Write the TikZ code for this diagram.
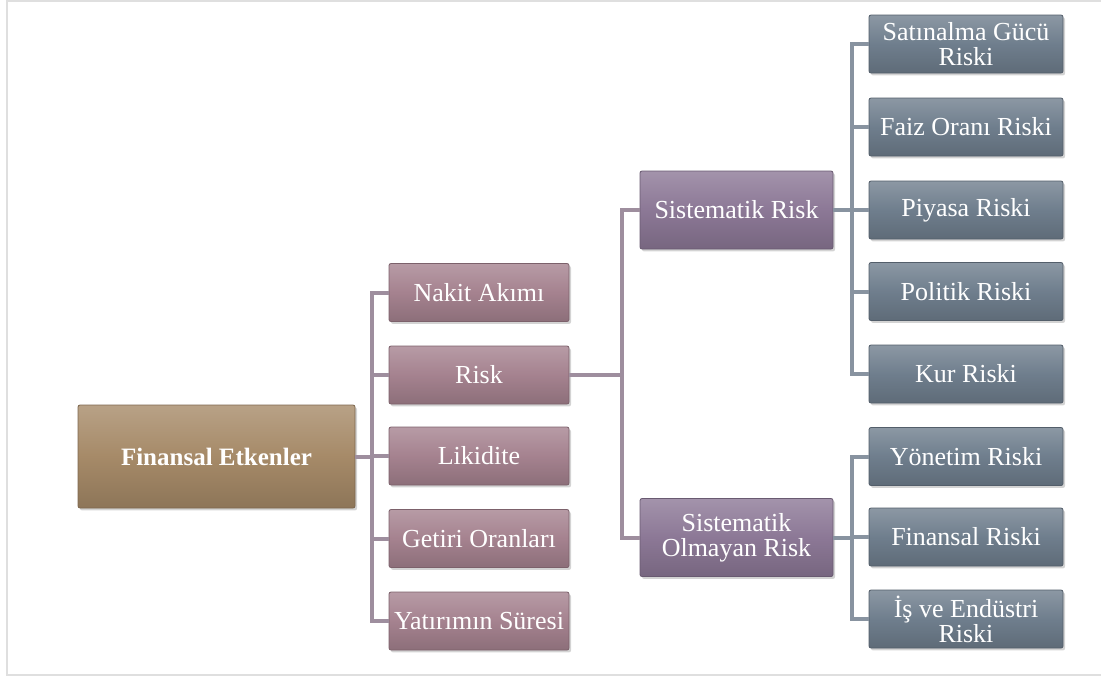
\documentclass[tikz,border=0pt]{standalone}
\usepackage{fontspec}
\setmainfont{Liberation Serif}
\usetikzlibrary{shadows}
\definecolor{kok}{HTML}{A68A68}
\definecolor{pembe}{HTML}{A5828F}
\definecolor{mor}{HTML}{8C7896}
\definecolor{gri}{HTML}{6F7E8D}
\definecolor{solcizgi}{HTML}{9E8E9E}
\definecolor{sagcizgi}{HTML}{8893A0}
\tikzset{
  kutu/.style={rectangle, rounded corners=1pt, draw=#1!75!black, line width=0.4pt,
    top color=#1!80!white, bottom color=#1!85!black, middle color=#1,
    text=white, align=center, inner sep=1pt,
    font=\fontsize{13}{12.5}\selectfont,
    drop shadow={shadow xshift=1pt, shadow yshift=-1.2pt, opacity=0.35}},
  kokkutu/.style={kutu=kok, minimum width=138.5pt, minimum height=51.5pt,
    font=\fontsize{12.5}{12.5}\selectfont\bfseries},
  orta/.style={kutu=pembe, minimum width=90pt, minimum height=29pt},
  riskkutu/.style={kutu=mor, minimum width=96.5pt, minimum height=39pt},
  yaprak/.style={kutu=gri, minimum width=97pt, minimum height=29pt},
  baglanti/.style={draw=#1, line width=2pt},
  cerceve/.style={draw=gray!25, line width=0.8pt}
}
\begin{document}
\begin{tikzpicture}[x=0.5pt,y=-0.5pt]
      \useasboundingbox (0,0) rectangle (1101,677);
      \draw[cerceve] (1101,1) -- (7,1) -- (7,675) -- (1101,675);
      \coordinate (t1) at (372,0);
      \coordinate (t2) at (622,0);
      \coordinate (t3) at (852,0);
      \draw
        (216.5,456.5) node[kokkutu] (0){Finansal Etkenler}
        (479,292.5) node[orta] (1){Nakit Akımı}
        (479,375) node[orta] (2){Risk}
        (479,456) node[orta] (3){Likidite}
        (479,538.5) node[orta] (4){Getiri Oranları}
        (479,621) node[orta] (5){Yatırımın Süresi}
        (736.5,210) node[riskkutu] (6){Sistematik Risk}
        (736.5,537.5) node[riskkutu] (7){Sistematik\\Olmayan Risk}
        (966,44) node[yaprak] (8){Satınalma Gücü\\Riski}
        (966,127) node[yaprak] (9){Faiz Oranı Riski}
        (966,210) node[yaprak] (10){Piyasa Riski}
        (966,291.5) node[yaprak] (11){Politik Riski}
        (966,374) node[yaprak] (12){Kur Riski}
        (966,456.5) node[yaprak] (13){Yönetim Riski}
        (966,537) node[yaprak] (14){Finansal Riski}
        (966,619) node[yaprak] (15){İş ve Endüstri\\Riski};
      \begin{scope}[baglanti=solcizgi]
        \draw (0) -- (0 -| t1) |- (1);
        \draw (0) -- (0 -| t1) |- (2);
        \draw (0) -- (0 -| t1) |- (3);
        \draw (0) -- (0 -| t1) |- (4);
        \draw (0) -- (0 -| t1) |- (5);
        \draw (2) -- (2 -| t2) |- (6);
        \draw (2) -- (2 -| t2) |- (7);
      \end{scope}
      \begin{scope}[baglanti=sagcizgi]
        \draw (6) -- (6 -| t3) |- (8);
        \draw (6) -- (6 -| t3) |- (9);
        \draw (6) -- (6 -| t3) |- (10);
        \draw (6) -- (6 -| t3) |- (11);
        \draw (6) -- (6 -| t3) |- (12);
        \draw (7) -- (7 -| t3) |- (13);
        \draw (7) -- (7 -| t3) |- (14);
        \draw (7) -- (7 -| t3) |- (15);
      \end{scope}
    \end{tikzpicture}
\end{document}
